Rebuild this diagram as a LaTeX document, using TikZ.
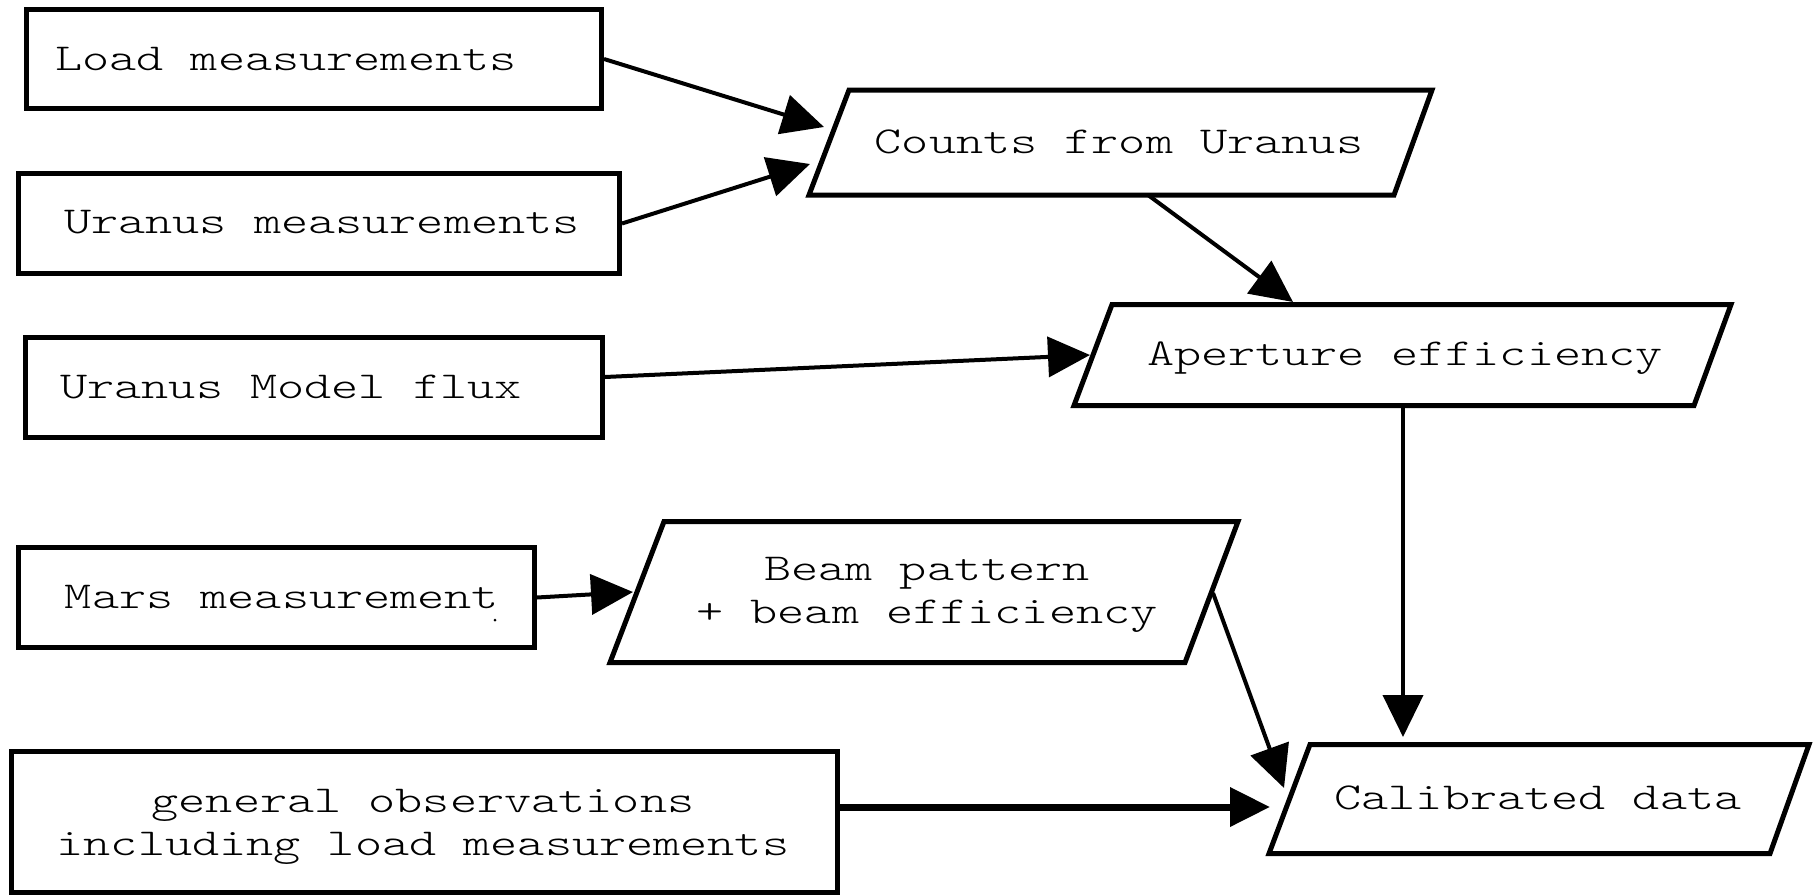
\documentclass[tikz,border=0pt]{standalone}
\usepackage{fontspec}
\setmonofont{Latin Modern Mono Light}[FakeStretch=1.36]
\usetikzlibrary{arrows.meta,calc}
\begin{document}
\begin{tikzpicture}[x=1pt,y=-1pt,
  box/.style={draw, line width=5pt, inner sep=0pt, rectangle},
  txt/.style={font=\ttfamily\fontsize{38pt}{43pt}\selectfont, inner sep=0pt, anchor=base, align=center},
  para/.style={draw, line width=5pt, line join=miter},
  conn/.style={line width=4pt, -{Triangle[length=42pt,width=40pt]}},
  thickconn/.style={line width=7pt, -{Triangle[length=40pt,width=38pt]}}
]
\useasboundingbox (0,0) rectangle (1820,894);

% rectangular input boxes
\node[box, minimum width=575pt, minimum height=99pt] (load) at (314,59) {};
\node[txt] (load-t) at (286,70) {Load measurements};
\node[box, minimum width=601pt, minimum height=100pt] (uran) at (319,223.5) {};
\node[txt] (uran-t) at (322,233) {Uranus measurements};
\node[box, minimum width=577pt, minimum height=100pt] (umf) at (314,387.5) {};
\node[txt] (umf-t) at (291,398) {Uranus Model flux};
\node[box, minimum width=516pt, minimum height=100pt] (mars) at (276.5,597.5) {};
\node[txt] (mars-t) at (282,608) {Mars measurement};
\fill (495,620) circle (1.5pt);
\node[box, minimum width=826pt, minimum height=140.5pt] (gen) at (424.5,821.75) {};
\node[txt] (gen-t) at (423,855) {general observations\\including load measurements};

% parallelograms
\coordinate (cnt-tl) at (849,90);  \coordinate (cnt-tr) at (1432,90);
\coordinate (cnt-br) at (1394,195); \coordinate (cnt-bl) at (809,195);
\draw[para] (cnt-tl) -- (cnt-tr) -- (cnt-br) -- (cnt-bl) -- cycle;
\node[txt] (counts) at (1119,153) {Counts from Uranus};

\coordinate (ape-tl) at (1112,304.5);  \coordinate (ape-tr) at (1731,304.5);
\coordinate (ape-br) at (1694,405.5); \coordinate (ape-bl) at (1074,405.5);
\draw[para] (ape-tl) -- (ape-tr) -- (ape-br) -- (ape-bl) -- cycle;
\node[txt] (aper) at (1405,365) {Aperture efficiency};

\coordinate (beam-tl) at (664,521.5);  \coordinate (beam-tr) at (1238,521.5);
\coordinate (beam-br) at (1185,662.5); \coordinate (beam-bl) at (610,662.5);
\draw[para] (beam-tl) -- (beam-tr) -- (beam-br) -- (beam-bl) -- cycle;
\node[txt] (beam) at (927,623) {Beam pattern\\+ beam efficiency};

\coordinate (cal-tl) at (1310,744.5);  \coordinate (cal-tr) at (1809,744.5);
\coordinate (cal-br) at (1770,853.5); \coordinate (cal-bl) at (1269,853.5);
\draw[para] (cal-tl) -- (cal-tr) -- (cal-br) -- (cal-bl) -- cycle;
\node[txt] (cal) at (1538,809) {Calibrated data};

% connector end points
\coordinate (cnt-in1) at (824,127);
\coordinate (cnt-in2) at (810,164);
\coordinate (cnt-out) at (1148,195);
\coordinate (ape-in1) at (1293,302);
\coordinate (umf-out) at (605,377);
\coordinate (ape-in2) at (1090,355);
\coordinate (ape-out) at (1403,405.5);
\coordinate (cal-in1) at (1403,737);
\coordinate (beam-in) at (633,592);
\coordinate (beam-out) at (1213,593);
\coordinate (cal-in2) at (1284,788);
\coordinate (gen-out) at (840,807);
\coordinate (cal-in3) at (1270,807);

% connectors
\draw[conn] (load.east) -- (cnt-in1);
\draw[conn] (uran.east) -- (cnt-in2);
\draw[conn] (cnt-out) -- (ape-in1);
\draw[conn] (umf-out) -- (ape-in2);
\draw[conn] (ape-out) -- (cal-in1);
\draw[conn] (mars.east) -- (beam-in);
\draw[conn] (beam-out) -- (cal-in2);
\draw[thickconn] (gen-out) -- (cal-in3);
\end{tikzpicture}
\end{document}
